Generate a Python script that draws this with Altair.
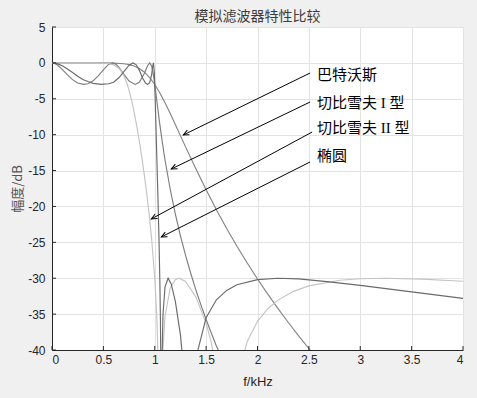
import math
import pandas as pd
import altair as alt

# ---------------- data ----------------
names = ["巴特沃斯", "切比雪夫 I 型", "切比雪夫 II 型", "椭圆"]
line_colors = ["#858585", "#7d7d7d", "#c4c4c4", "#6a6a6a"]

butter_f = [0, 0.2, 0.4, 0.5, 0.6, 0.7, 0.75, 0.8, 0.85, 0.9, 0.95, 1.0, 1.05, 1.1, 1.15,
            1.2, 1.3, 1.4, 1.5, 1.6, 1.7, 1.8, 1.9, 2.0, 2.1, 2.2, 2.3, 2.4, 2.5, 2.6, 2.7]
butter_db = [0, 0, 0, -0.004, -0.03, -0.12, -0.24, -0.44, -0.78, -1.30, -2.04, -3.01, -4.20,
             -5.56, -7.03, -8.57, -11.70, -14.76, -17.68, -20.45, -23.07, -25.54, -27.88,
             -30.11, -32.22, -34.24, -36.17, -38.02, -39.79, -41.5, -43.1]

cheb1_f = [0, 0.02, 0.05, 0.1, 0.15, 0.2, 0.25, 0.309, 0.35, 0.4, 0.45, 0.5, 0.55, 0.588,
           0.62, 0.65, 0.7, 0.75, 0.809, 0.85, 0.9, 0.93, 0.951, 0.97, 0.98, 0.99, 0.995,
           1.0, 1.01, 1.02, 1.03, 1.05, 1.075, 1.1, 1.15, 1.2, 1.25, 1.3, 1.35, 1.4, 1.45,
           1.5, 1.55, 1.6, 1.65, 1.7]
cheb1_db = [0, -0.04, -0.26, -0.90, -1.66, -2.33, -2.80, -3.0, -2.90, -2.50, -1.82, -0.96,
            -0.22, 0, -0.17, -0.60, -1.60, -2.53, -3.0, -2.71, -1.45, -0.39, 0, -0.46,
            -1.10, -1.97, -2.47, -3.01, -4.12, -5.27, -6.42, -8.63, -11.20, -13.53, -17.57,
            -21.05, -24.09, -26.82, -29.31, -31.62, -33.75, -35.76, -37.64, -39.43, -41.1,
            -42.7]

cheb2_f = [0, 0.3, 0.4, 0.5, 0.55, 0.6, 0.65, 0.675, 0.7, 0.73, 0.75, 0.775, 0.8, 0.825,
           0.85, 0.875, 0.9, 0.925, 0.95, 0.97, 1.0, 1.02, 1.04, 1.051, 1.07, 1.1, 1.15,
           1.2, 1.236, 1.3, 1.4, 1.5, 1.55, 1.6, 1.7, 1.8, 1.9, 2.0, 2.1, 2.2, 2.35, 2.5,
           2.8, 3.0, 3.236, 3.6, 4.0]
cheb2_db = [0, 0, 0, -0.03, -0.10, -0.28, -0.75, -1.18, -1.80, -2.88, -3.81, -5.22, -6.89,
            -8.80, -10.92, -13.23, -15.77, -18.55, -21.7, -24.57, -30.0, -35.2, -44.9, -80,
            -42.3, -35.3, -31.4, -30.2, -30.0, -30.46, -32.6, -36.26, -38.95, -42.7, -80,
            -44.2, -38.8, -36.0, -34.25, -33.05, -31.83, -31.07, -30.28, -30.07, -30.0,
            -30.12, -30.42]

ell_f = [0, 0.05, 0.1, 0.15, 0.2, 0.25, 0.3, 0.35, 0.4, 0.48, 0.55, 0.6, 0.65, 0.7, 0.75,
         0.789, 0.82, 0.85, 0.88, 0.91, 0.93, 0.95, 0.97, 0.98, 0.987, 0.995, 1.0, 1.01,
         1.02, 1.03, 1.04, 1.05, 1.055, 1.06, 1.064, 1.07, 1.08, 1.1, 1.13, 1.16, 1.2,
         1.25, 1.28, 1.331, 1.38, 1.42, 1.5, 1.6, 1.7, 1.8, 2.0, 2.2, 2.4, 2.7, 3.0, 3.5,
         4.0]
ell_db = [0, -0.11, -0.40, -0.84, -1.34, -1.85, -2.32, -2.6, -2.85, -3.0, -2.9, -2.69,
          -2.07, -1.22, -0.33, 0, -0.27, -1.04, -2.07, -2.8, -3.0, -2.8, -1.63, -0.47, 0,
          -1.12, -3.01, -7.94, -13.08, -18.21, -23.75, -30.65, -35.5, -43.5, -80, -41.9,
          -35.1, -31.2, -30.0, -30.8, -33.2, -37.9, -42.5, -80, -44.5, -40.0, -35.5, -33.0,
          -31.7, -30.9, -30.2, -30.0, -30.1, -30.5, -31.0, -31.9, -32.8]

# annotation arrows (data coordinates): label position, arrow start, arrow tip
label_x = [2.58, 2.58, 2.58, 2.58]
label_y = [-1.69, -5.58, -9.14, -13.04]
start_x = [2.512, 2.512, 2.532, 2.512]
start_y = [-1.41, -5.45, -9.63, -13.8]
tip_x = [1.278, 1.161, 0.967, 1.064]
tip_y = [-10.04, -14.78, -21.74, -24.25]

x_ticks = [0, 0.5, 1, 1.5, 2, 2.5, 3, 3.5, 4]
y_ticks = [5, 0, -5, -10, -15, -20, -25, -30, -35, -40]

# ---------------- layout ----------------
W, H = 411, 323
X_DOM = [0, 4]
Y_DOM = [-40, 5]
TICK = 4

frames = []
for nm, f, d in zip(names, [butter_f, cheb1_f, cheb2_f, ell_f],
                    [butter_db, cheb1_db, cheb2_db, ell_db]):
    frames.append(pd.DataFrame({"f": f, "db": d, "name": nm}))
df = pd.concat(frames, ignore_index=True)

px_x = W / (X_DOM[1] - X_DOM[0])
px_y = H / (Y_DOM[1] - Y_DOM[0])
angles = []
for sx, sy, tx, ty in zip(start_x, start_y, tip_x, tip_y):
    dx = (tx - sx) * px_x
    dy = -(ty - sy) * px_y
    angles.append(math.degrees(math.atan2(dy, dx)) % 360)

ann = pd.DataFrame({"name": names, "lx": label_x, "ly": label_y, "sx": start_x,
                    "sy": start_y, "tx": tip_x, "ty": tip_y, "ang": angles})
xt = pd.DataFrame({"v": x_ticks})
yt = pd.DataFrame({"v": y_ticks})

CJK = "Noto Sans CJK SC"
LAT = "Liberation Sans"
MIX = "'Liberation Serif', 'Noto Sans CJK SC'"

xaxis = alt.Axis(values=x_ticks, grid=True, gridColor="#e3e3e3", tickSize=0,
                 domainColor="#262626", labelFont=LAT, labelFontSize=12,
                 labelColor="#262626", labelPadding=4, labelExpr="'' + datum.value",
                 titleFont=LAT, titleFontSize=13, titleFontWeight="normal",
                 titleColor="#262626", titlePadding=10)
yaxis = alt.Axis(values=y_ticks, grid=True, gridColor="#e3e3e3", tickSize=0,
                 domainColor="#262626", labelFont=LAT, labelFontSize=12,
                 labelColor="#262626", labelPadding=7, labelExpr="'' + datum.value",
                 titleFont=CJK, titleFontSize=13, titleFontWeight="normal",
                 titleColor="#555555", titlePadding=3)

xs = alt.Scale(domain=X_DOM, nice=False, zero=False)
ys = alt.Scale(domain=Y_DOM, nice=False, zero=False)
XT = "f/kHz"
YT = "幅度/dB"

lines = alt.Chart(df).mark_line(clip=True, strokeWidth=1.15).encode(
    x=alt.X("f:Q", scale=xs, axis=xaxis, title=XT),
    y=alt.Y("db:Q", scale=ys, axis=yaxis, title=YT),
    color=alt.Color("name:N", scale=alt.Scale(domain=names, range=line_colors), legend=None),
)

# inward tick marks (MATLAB style)
xticks_in = alt.Chart(xt).mark_rule(color="#262626", strokeWidth=1).encode(
    x=alt.X("v:Q", scale=xs, axis=xaxis, title=XT),
    y=alt.value(H), y2=alt.value(H - TICK),
)
yticks_in = alt.Chart(yt).mark_rule(color="#262626", strokeWidth=1).encode(
    y=alt.Y("v:Q", scale=ys, axis=yaxis, title=YT),
    x=alt.value(0), x2=alt.value(TICK),
)

arrows = alt.Chart(ann).mark_rule(color="black", strokeWidth=1).encode(
    x=alt.X("sx:Q", scale=xs, axis=xaxis, title=XT),
    y=alt.Y("sy:Q", scale=ys, axis=yaxis, title=YT),
    x2="tx:Q",
    y2="ty:Q",
)

heads = alt.Chart(ann).mark_point(
    shape="M -1 -0.45 L 0 0 L -1 0.45", filled=False, stroke="black",
    strokeWidth=1, size=130, opacity=1,
).encode(
    x=alt.X("tx:Q", scale=xs, axis=xaxis, title=XT),
    y=alt.Y("ty:Q", scale=ys, axis=yaxis, title=YT),
    angle=alt.Angle("ang:Q", scale=None),
)

labels = alt.Chart(ann).mark_text(
    align="left", baseline="middle", font=MIX, fontSize=15, color="black"
).encode(
    x=alt.X("lx:Q", scale=xs, axis=xaxis, title=XT),
    y=alt.Y("ly:Q", scale=ys, axis=yaxis, title=YT),
    text="name:N",
)

chart = alt.layer(lines, xticks_in, yticks_in, arrows, heads, labels).properties(
    width=W, height=H,
    title=alt.Title("模拟滤波器特性比较", font=CJK, fontSize=14, fontWeight="normal",
                    color="#3c3c3c", anchor="middle", offset=0, dy=3),
    autosize="none",
    padding={"left": 52, "top": 27, "right": 14, "bottom": 48},
).configure(background="#f0f0f0").configure_view(fill="white", stroke="transparent")

chart.save("out.html", embed_options={"renderer": "svg", "actions": False})
